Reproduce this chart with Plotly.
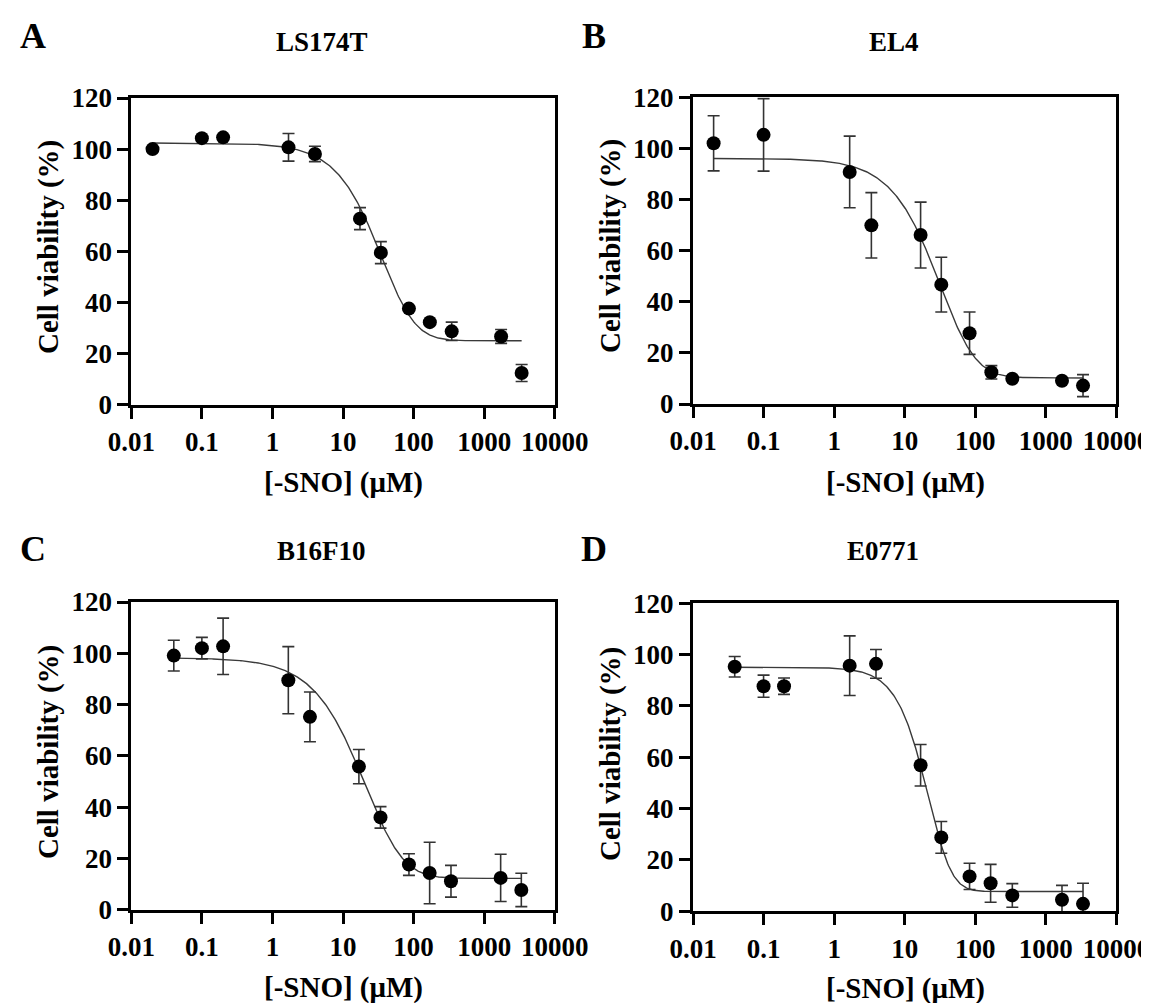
import numpy as np
import plotly.graph_objects as go

W, H = 1149, 1003

# ---------------- data ----------------
titles = ["LS174T", "EL4", "B16F10", "E0771"]
letters = ["A", "B", "C", "D"]

conc_A = [0.02, 0.1, 0.2, 1.69, 4.0, 17.4, 34.4, 86, 170, 347, 1740, 3400]
via_A = [100.0, 104.3, 104.6, 100.7, 98.1, 72.8, 59.5, 37.6, 32.3, 28.7, 26.7, 12.4]
err_A = [0, 0, 0, 5.4, 3.0, 4.3, 4.3, 0, 0, 3.6, 2.7, 3.3]

conc_B = [0.0196, 0.1, 1.66, 3.37, 16.8, 33, 83, 169, 335, 1694, 3365]
via_B = [102.0, 105.3, 90.8, 69.9, 66.1, 46.7, 27.7, 12.4, 9.9, 9.1, 7.2]
err_B = [10.8, 14.2, 14.0, 12.8, 12.9, 10.7, 8.3, 2.6, 0, 0, 4.3]

conc_C = [0.04, 0.1, 0.2, 1.68, 3.4, 16.8, 34, 86, 169, 339, 1714, 3365]
via_C = [99.1, 102.0, 102.7, 89.5, 75.2, 55.8, 36.0, 17.6, 14.3, 11.1, 12.4, 7.7]
err_C = [6.0, 4.2, 11.0, 13.1, 9.7, 6.7, 4.2, 4.2, 12.0, 6.2, 9.2, 6.5]

conc_D = [0.039, 0.1, 0.195, 1.66, 3.92, 16.8, 33, 83, 165, 335, 1694, 3365]
via_D = [95.3, 87.7, 87.7, 95.7, 96.4, 56.9, 28.8, 13.6, 10.9, 6.2, 4.5, 2.9]
err_D = [4.0, 4.3, 3.2, 11.6, 5.6, 8.1, 6.2, 5.1, 7.4, 4.6, 5.6, 8.0]

# fitted dose-response parameters (top, bottom, log-center, hill, asymmetry)
fit_top = [102.4, 96.1, 98.2, 95.1]
fit_bottom = [25.0, 10.2, 12.2, 7.7]
fit_logc = [1.942, 1.922, 1.762, 1.608]
fit_hill = [1.218, 1.143, 1.074, 1.754]
fit_asym = [3.0, 3.0, 3.0, 3.0]

x_tickvals = [0.01, 0.1, 1, 10, 100, 1000, 10000]
x_ticktext = ["0.01", "0.1", "1", "10", "100", "1000", "10000"]
y_tickvals = [0, 20, 40, 60, 80, 100, 120]

conc = [conc_A, conc_B, conc_C, conc_D]
via = [via_A, via_B, via_C, via_D]
err = [err_A, err_B, err_C, err_D]

# ---------------- layout (pixel boxes) ----------------
boxes = [  # x0, x1, ytop, ybottom in pixels
    (123.3, 546.7, 90.0, 396.7),
    (685.0, 1108.4, 89.3, 396.0),
    (123.3, 546.7, 594.0, 901.7),
    (685.0, 1108.4, 595.3, 903.3),
]

FONT = "Liberation Serif"
fig = go.Figure()

def px2paper(x, y):
    return x / W, 1 - y / H

for i in range(4):
    xs = np.array(conc[i])
    lx = np.linspace(np.log10(xs.min()), np.log10(xs.max()), 400)
    T, B, c, h, s = fit_top[i], fit_bottom[i], fit_logc[i], fit_hill[i], fit_asym[i]
    yc = B + (T - B) / (1 + 10 ** (h * (lx - c))) ** s
    ax = "" if i == 0 else str(i + 1)
    fig.add_trace(go.Scatter(
        x=10 ** lx, y=yc, mode="lines",
        line=dict(color="#3a3a3a", width=1.4),
        xaxis="x" + ax, yaxis="y" + ax, showlegend=False, hoverinfo="skip"))
    fig.add_trace(go.Scatter(
        x=conc[i], y=via[i], mode="markers",
        marker=dict(color="black", size=14),
        error_y=dict(type="data", array=err[i], visible=True,
                     thickness=1.6, width=6, color="#333333"),
        xaxis="x" + ax, yaxis="y" + ax, showlegend=False))

    x0, x1, yt, yb = boxes[i]
    common = dict(showline=True, linewidth=3, linecolor="black", mirror=True,
                  ticks="outside", ticklen=11, tickwidth=2.5, tickcolor="black",
                  showgrid=False, zeroline=False, automargin=False,
                  tickfont=dict(family=FONT, size=27, color="black", weight="bold"))
    fig.layout["xaxis" + ax] = dict(
        type="log", range=[-2, 4], tickvals=x_tickvals, ticktext=x_ticktext,
        domain=[x0 / W, x1 / W], anchor="y" + ax, **common)
    fig.layout["yaxis" + ax] = dict(
        range=[0, 120], tickvals=y_tickvals,
        domain=[1 - yb / H, 1 - yt / H], anchor="x" + ax, **common)

# ---------------- annotations ----------------
annots = []
letter_pos = [(25, 28), (586, 28), (25, 541), (586, 541)]
title_pos = [(313.5, 34), (886, 34), (313, 543), (875, 543)]
ytitle_pos = [(40, 239), (602, 238), (40, 744), (602, 746)]
xtitle_pos = [(335, 475), (897, 475), (335, 979), (897, 980)]

for i in range(4):
    px, py = px2paper(*letter_pos[i])
    annots.append(dict(x=px, y=py, xref="paper", yref="paper", text="<b>%s</b>" % letters[i],
                       showarrow=False, xanchor="center", yanchor="middle",
                       font=dict(family=FONT, size=36, color="black")))
    px, py = px2paper(*title_pos[i])
    annots.append(dict(x=px, y=py, xref="paper", yref="paper", text="<b>%s</b>" % titles[i],
                       showarrow=False, xanchor="center", yanchor="middle",
                       font=dict(family=FONT, size=27, color="black")))
    px, py = px2paper(*ytitle_pos[i])
    annots.append(dict(x=px, y=py, xref="paper", yref="paper", text="<b>Cell viability (%)</b>",
                       showarrow=False, xanchor="center", yanchor="middle", textangle=-90,
                       font=dict(family=FONT, size=29, color="black")))
    px, py = px2paper(*xtitle_pos[i])
    annots.append(dict(x=px, y=py, xref="paper", yref="paper", text="<b>[-SNO] (\u03bcM)</b>",
                       showarrow=False, xanchor="center", yanchor="middle",
                       font=dict(family=FONT, size=29, color="black")))

fig.update_layout(
    width=W, height=H, margin=dict(l=0, r=0, t=0, b=0, autoexpand=False),
    paper_bgcolor="white", plot_bgcolor="white",
    annotations=annots, showlegend=False,
)

fig.write_html("out.html")
